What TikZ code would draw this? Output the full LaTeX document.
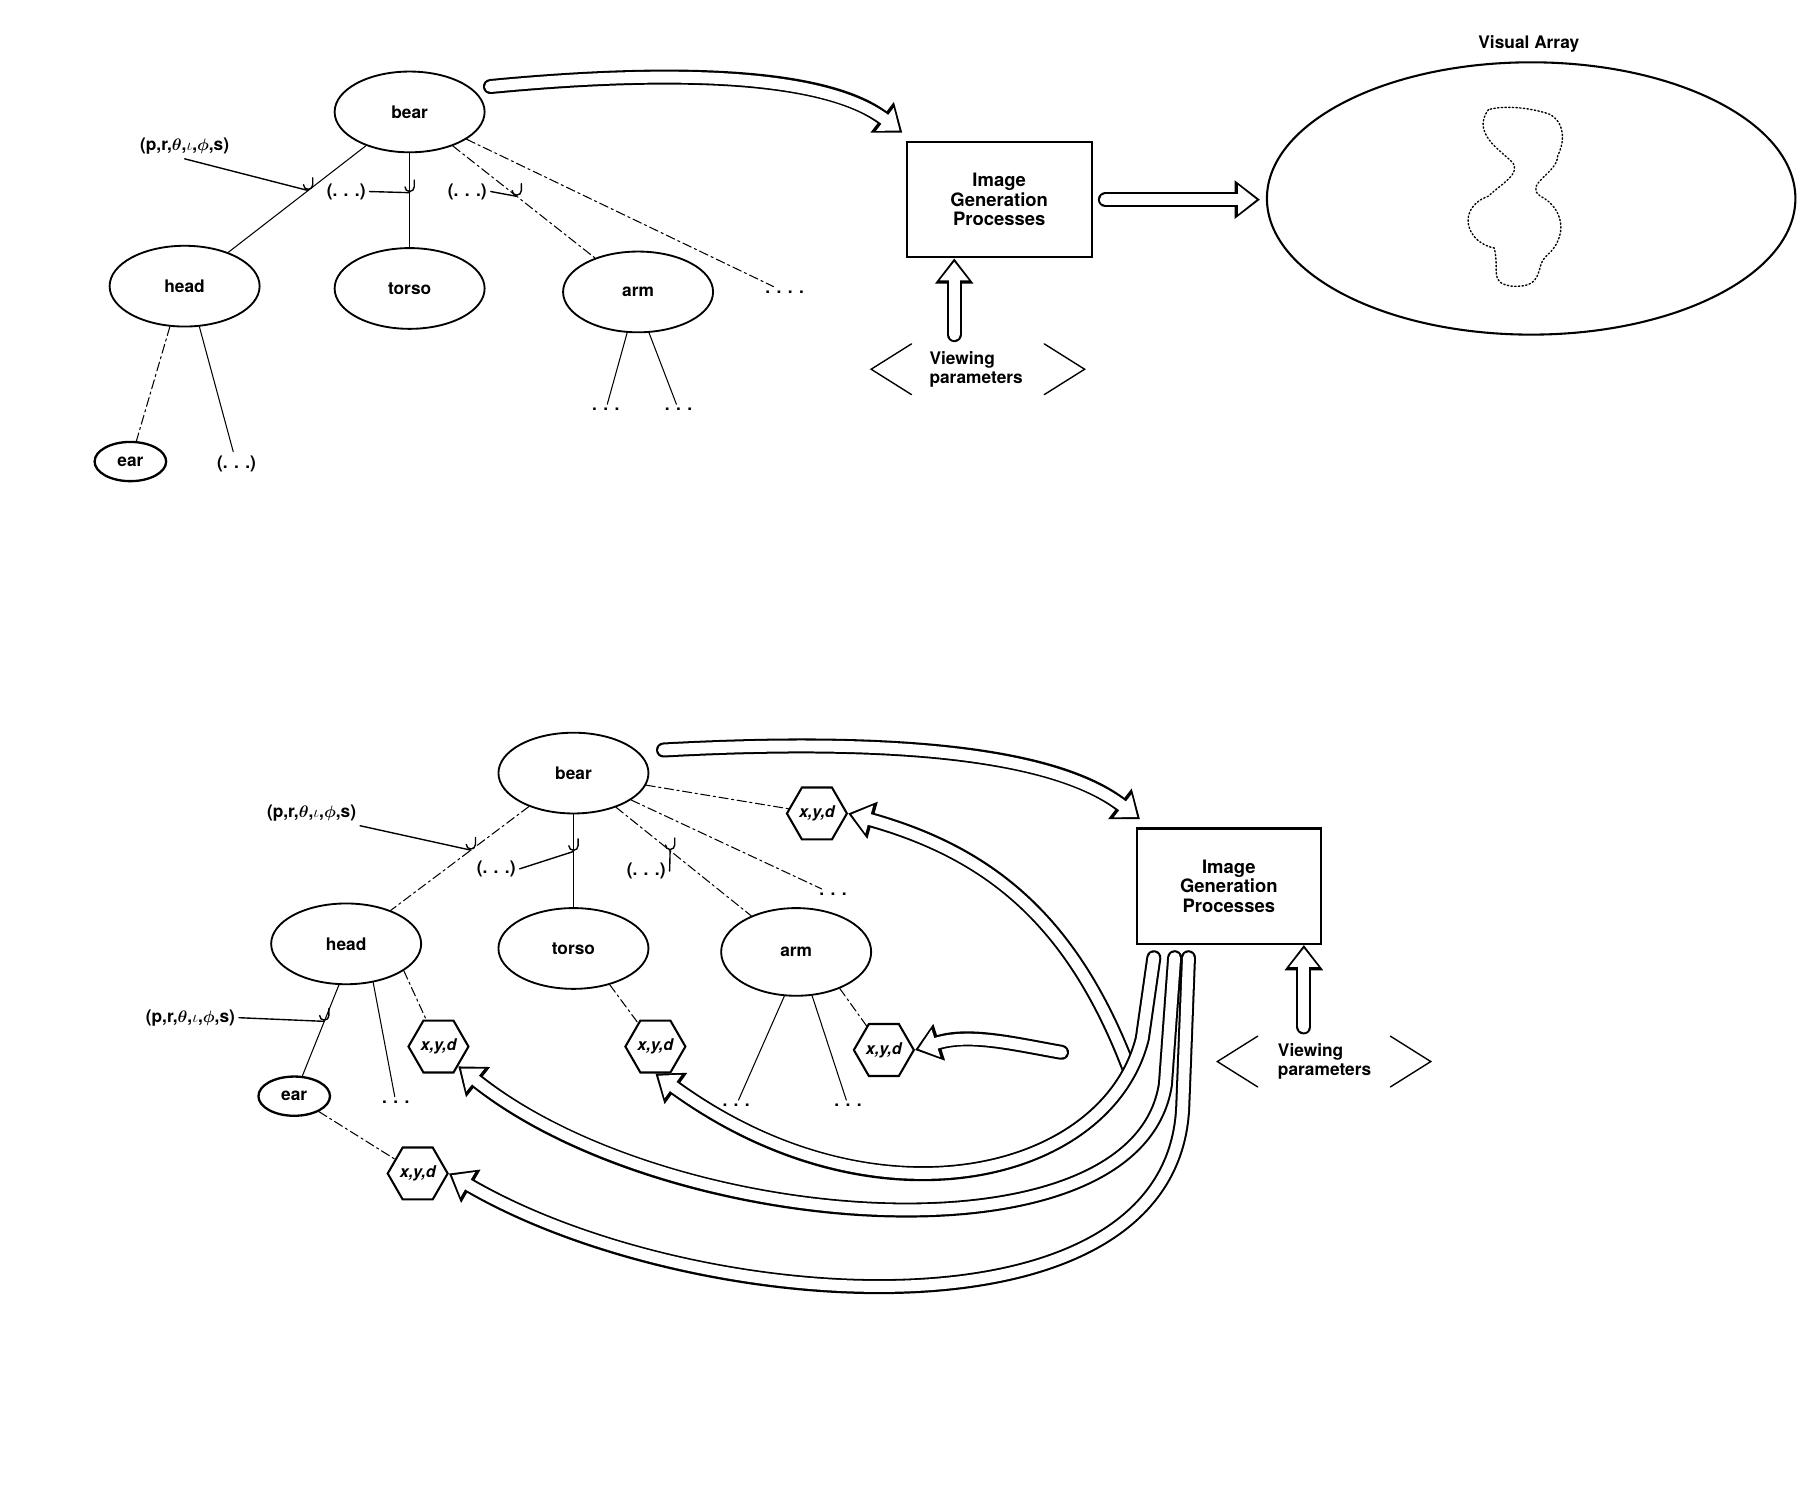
\documentclass[tikz,border=0pt]{standalone}
\usepackage{amsmath}
\usepackage{fontspec}
\setmainfont{TeX Gyre Heros}
\usetikzlibrary{shapes.geometric,arrows.meta}
\begin{document}
\begin{tikzpicture}[x=1pt,y=-1pt,line cap=round,
  el/.style={ellipse,draw,line width=1.6pt,minimum width=130pt,minimum height=70pt,font=\fontsize{15}{16}\selectfont\bfseries},
  sel/.style={ellipse,draw,line width=2pt,minimum width=62pt,minimum height=34pt,inner sep=0pt,font=\fontsize{15}{16}\selectfont\bfseries},
  hx/.style={regular polygon,regular polygon sides=6,shape border rotate=0,draw,line width=1.8pt,minimum width=52pt,inner sep=0pt,font=\fontsize{14}{15}\selectfont\bfseries\itshape},
  box/.style={draw,line width=1.8pt,minimum width=160pt,minimum height=100pt,align=center,font=\fontsize{16}{17}\selectfont\bfseries},
  txt/.style={font=\fontsize{15}{16}\selectfont\bfseries},
  ln/.style={line width=0.9pt},
  dl/.style={line width=0.9pt,dash pattern=on 8pt off 3pt on 2pt off 3pt},
  hook/.style={line width=1.2pt}]
\useasboundingbox (0,0) rectangle (1560,1298);
\newcommand\hollow[1]{%
  \draw[line width=13pt,-{Triangle[length=22pt,width=32pt]}] #1;
  \draw[line width=9.5pt,white,shorten >=3pt,-{Triangle[length=16pt,width=24pt]}] #1;}
\newcommand\hk[1]{\draw[hook] (#1) ++(-4,-5) arc(180:360:4pt) -- ++(0,-6);}
% ===== TOP =====
\node[el] (bear) at (355,97) {bear};
\node[el] (head) at (160,248) {head};
\node[el] (torso) at (355,250) {torso};
\node[el] (arm) at (553,253) {arm};
\node[sel] (ear) at (113,400) {ear};
\node[txt] (e2) at (205,402) {(. . .)};
\node[txt] (lab1) at (160,127) {(p,r,$\boldsymbol\theta$,$\iota$,$\boldsymbol\phi$,s)};
\node[txt] (d1) at (300,166) {(. . .)};
\node[txt] (d2) at (405,166) {(. . .)};
\node[txt] (dd) at (680,253) {. . . .};
\node[txt] (a1) at (525,355) {. . .};
\node[txt] (a2) at (588,355) {. . .};
\draw[ln] (bear) -- (head) coordinate[pos=0.42] (h1);
\draw[ln] (bear) -- (torso) coordinate[pos=0.42] (h2);
\draw[dl] (bear) -- (arm) coordinate[pos=0.45] (h3);
\draw[dl] (bear) -- (dd);
\draw[dl] (head.-110) -- (ear);
\draw[ln] (head.-70) -- (e2);
\draw[ln] (arm.-105) -- (a1);
\draw[ln] (arm.-75) -- (a2);
\draw[hook] (lab1.south) -- (h1);
\draw[hook] (d1.east) -- (h2);
\draw[hook] (d2.east) -- (h3);
\hk{h1}\hk{h2}\hk{h3}
\node[box] (igp) at (866,173) {Image\\Generation\\Processes};
\node[txt,align=left] (vp) at (846,320) {Viewing\\parameters};
\draw[line width=1.2pt] (790,298) -- (755,320) -- (790,342);
\draw[line width=1.2pt] (905,298) -- (940,320) -- (905,342);
\coordinate (t1) at (425,75); \coordinate (t2) at (782,115);
\hollow{(t1) .. controls (560,62) and (710,60) .. (t2)}
\coordinate (t3) at (958,173); \coordinate (t4) at (1092,173);
\hollow{(t3) -- (t4)}
\coordinate (t5) at (827,290);
\hollow{(t5) -- (igp.south -| t5)}
\node[ellipse,draw,line width=1.8pt,minimum width=458pt,minimum height=236pt] (va) at (1327,172) {};
\node[txt] (val) at (1325,38) {Visual Array};
\draw[dotted,line width=1.2pt] (1290,95) .. controls (1275,115) and (1300,130) .. (1310,140) .. controls (1320,150) and (1300,160) .. (1290,170) .. controls (1262,180) and (1270,210) .. (1295,215) .. controls (1300,235) and (1290,245) .. (1310,248) .. controls (1340,250) and (1330,230) .. (1340,222) .. controls (1360,205) and (1355,180) .. (1335,170) .. controls (1320,160) and (1350,150) .. (1350,135) .. controls (1360,115) and (1350,100) .. (1340,98) .. controls (1320,92) and (1300,92) .. (1290,95);
% ===== BOTTOM =====
\node[el] (bear2) at (497,670) {bear};
\node[el] (head2) at (300,818) {head};
\node[el] (torso2) at (497,822) {torso};
\node[el,minimum height=76pt] (arm2) at (690,825) {arm};
\node[sel] (ear2) at (255,950) {ear};
\node[txt] (lab2) at (270,705) {(p,r,$\boldsymbol\theta$,$\iota$,$\boldsymbol\phi$,s)};
\node[txt] (lab3) at (165,882) {(p,r,$\boldsymbol\theta$,$\iota$,$\boldsymbol\phi$,s)};
\node[txt] (d3) at (430,753) {(. . .)};
\node[txt] (d4) at (560,755) {(. . .)};
\node[hx] (x1) at (708,705) {x,y,d};
\node[hx] (x2) at (380,907) {x,y,d};
\node[hx] (x3) at (568,907) {x,y,d};
\node[hx] (x4) at (766,910) {x,y,d};
\node[hx] (x5) at (362,1017) {x,y,d};
\node[txt] (p1) at (722,775) {. . .};
\node[txt] (p2) at (343,955) {. . .};
\node[txt] (p3) at (638,958) {. . .};
\node[txt] (p4) at (735,958) {. . .};
\draw[dl] (bear2) -- (head2) coordinate[pos=0.42] (g1);
\draw[ln] (bear2) -- (torso2) coordinate[pos=0.4] (g2);
\draw[dl] (bear2) -- (arm2) coordinate[pos=0.4] (g3);
\draw[dl] (bear2) -- (x1);
\draw[dl] (bear2) -- (p1);
\draw[ln] (head2.-100) -- (ear2) coordinate[pos=0.4] (g4);
\draw[ln] (head2.-55) -- (p2);
\draw[dl] (head2.-25) -- (x2);
\draw[dl] (torso2.-45) -- (x3);
\draw[dl] (arm2.-40) -- (x4);
\draw[ln] (arm2.-105) -- (p3);
\draw[ln] (arm2.-70) -- (p4);
\draw[dl] (ear2) -- (x5);
\draw[hook] (lab2.south east) -- (g1);
\draw[hook] (d3.east) -- (g2);
\draw[hook] (d4.east) -- (g3);
\draw[hook] (lab3.east) -- (g4);
\hk{g1}\hk{g2}\hk{g3}\hk{g4}
\node[box] (igp2) at (1065,768) {Image\\Generation\\Processes};
\node[txt,align=left] (vp2) at (1148,920) {Viewing\\parameters};
\draw[line width=1.2pt] (1090,898) -- (1055,920) -- (1090,942);
\draw[line width=1.2pt] (1205,898) -- (1240,920) -- (1205,942);
\coordinate (b5) at (1130,890);
\hollow{(b5) -- (igp2.south -| b5)}
\coordinate (b1) at (575,650); \coordinate (b2) at (988,710);
\hollow{(b1) .. controls (760,640) and (910,650) .. (b2)}
\coordinate (s1) at (978,925);
\hollow{(s1) .. controls (930,800) and (860,740) .. (x1.east)}
\coordinate (s2) at (920,912);
\hollow{(s2) .. controls (880,905) and (840,895) .. (x4.east)}
\coordinate (s3) at (1000,830);
\hollow{(s3) -- (990,900) .. controls (960,1020) and (760,1070) .. (x3.south)}
\coordinate (s4) at (1018,830);
\hollow{(s4) -- (1010,940) .. controls (985,1100) and (580,1070) .. (x2.south east)}
\coordinate (s5) at (1030,830);
\hollow{(s5) -- (1025,960) .. controls (1015,1170) and (600,1140) .. (x5.east)}
\end{tikzpicture}
\end{document}
